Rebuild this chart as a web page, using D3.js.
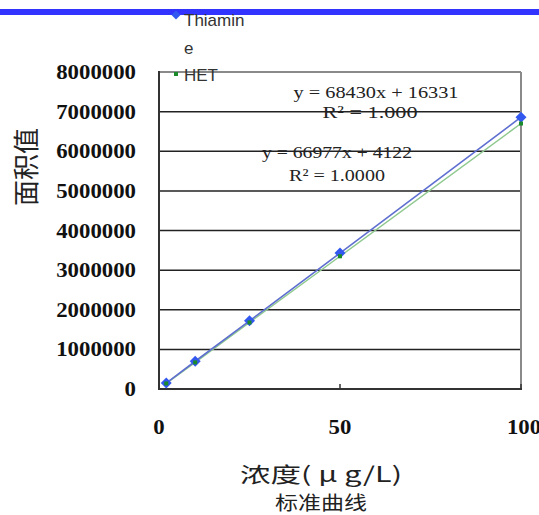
<!DOCTYPE html>
<html><head><meta charset="utf-8">
<script src="https://cdn.jsdelivr.net/npm/d3@7"></script>
<style>body{margin:0;background:#fff}svg{display:block}</style>
</head><body>
<svg id="c" width="539" height="515"></svg>
<script>
const concentrations = [2, 10, 25, 50, 100];
const thiamine = [150000, 700000, 1720000, 3430000, 6860000];
const het = [140000, 672000, 1680000, 3350000, 6700000];
const seriesNames = ["Thiamin", "e", "HET"];
const yTicks = [0, 1000000, 2000000, 3000000, 4000000, 5000000, 6000000, 7000000, 8000000];
const xTicks = [0, 50, 100];
const equations = ["y = 68430x + 16331", "R² = 1.000", "y = 66977x + 4122", "R² = 1.0000"];

const svg = d3.select("#c");
const L = 159, R = 521, T = 72, B = 389;
const x = d3.scaleLinear().domain([0, 100]).range([L, R]);
const y = d3.scaleLinear().domain([0, 8000000]).range([B, T]);

// top blue bar
svg.append("rect").attr("x", 0).attr("y", 9).attr("width", 539).attr("height", 6).attr("fill", "#3333ff");

// equations (drawn beneath gridlines)
const eqPos = [[376, 98, 165], [370, 118, 95], [337, 158, 150], [337, 181, 96]];
equations.forEach((t, i) => {
  svg.append("text").attr("x", eqPos[i][0]).attr("y", eqPos[i][1])
    .attr("text-anchor", "middle").attr("font-family", "Liberation Serif, serif")
    .attr("font-size", 17).attr("fill", "#222")
    .attr("textLength", eqPos[i][2]).attr("lengthAdjust", "spacingAndGlyphs").text(t);
});

// gridlines
svg.append("g").selectAll("line").data(yTicks.filter(d => d > 0 && d < 8000000)).join("line")
  .attr("x1", L).attr("x2", R).attr("y1", d => y(d)).attr("y2", d => y(d))
  .attr("stroke", "#222").attr("stroke-width", 1.5);

// frame
svg.append("line").attr("x1", L).attr("x2", R).attr("y1", T).attr("y2", T).attr("stroke", "#8a8a8a").attr("stroke-width", 2);
svg.append("line").attr("x1", R).attr("x2", R).attr("y1", T).attr("y2", B).attr("stroke", "#8a8a8a").attr("stroke-width", 2);
svg.append("line").attr("x1", L).attr("x2", L).attr("y1", T - 1).attr("y2", B + 1).attr("stroke", "#333").attr("stroke-width", 2);
svg.append("line").attr("x1", L - 1).attr("x2", R + 1).attr("y1", B).attr("y2", B).attr("stroke", "#333").attr("stroke-width", 2);

// x tick marks (inside)
svg.append("g").selectAll("line").data(xTicks).join("line")
  .attr("x1", d => x(d)).attr("x2", d => x(d)).attr("y1", B).attr("y2", B - 5)
  .attr("stroke", "#333").attr("stroke-width", 1.5);

// y tick labels
svg.append("g").selectAll("text").data(yTicks).join("text")
  .attr("x", 136).attr("y", d => y(d) + 7).attr("text-anchor", "end")
  .attr("font-family", "Liberation Serif, serif").attr("font-weight", "bold").attr("font-size", 20)
  .attr("fill", "#111")
  .attr("textLength", d => String(d).length * 11.4).attr("lengthAdjust", "spacingAndGlyphs")
  .text(d => d);

// x tick labels
svg.append("g").selectAll("text").data(xTicks).join("text")
  .attr("x", d => x(d) + (d === 100 ? 3 : 0)).attr("y", 434).attr("text-anchor", "middle")
  .attr("font-family", "Liberation Serif, serif").attr("font-weight", "bold").attr("font-size", 20)
  .attr("fill", "#111")
  .attr("textLength", d => String(d).length * 11.4).attr("lengthAdjust", "spacingAndGlyphs")
  .text(d => d);

// lines
const line = d3.line().x(d => x(d[0])).y(d => y(d[1]));
const hetPts = concentrations.map((c, i) => [c, het[i]]);
const thPts = concentrations.map((c, i) => [c, thiamine[i]]);
svg.append("path").attr("d", line(hetPts)).attr("fill", "none").attr("stroke", "#8fc98f").attr("stroke-width", 1.5);
svg.append("path").attr("d", line(thPts)).attr("fill", "none").attr("stroke", "#5f6fd0").attr("stroke-width", 1.6);

// markers
const sq = d3.symbol().type(d3.symbolSquare);
svg.append("g").selectAll("path").data(thPts).join("path")
  .attr("d", sq.size(60)()).attr("transform", d => `translate(${x(d[0])},${y(d[1])}) rotate(45)`)
  .attr("fill", "#3358f0");
svg.append("g").selectAll("path").data(hetPts).join("path")
  .attr("d", sq.size(16)()).attr("transform", d => `translate(${x(d[0])},${y(d[1])})`)
  .attr("fill", "#1a8a2a");

// legend
svg.append("path").attr("d", sq.size(40)()).attr("transform", "translate(176,15) rotate(45)").attr("fill", "#3358f0");
svg.append("path").attr("d", sq.size(16)()).attr("transform", "translate(176,74)").attr("fill", "#1a8a2a");
const legY = [26, 54, 81];
seriesNames.forEach((n, i) => {
  svg.append("text").attr("x", 184).attr("y", legY[i]).attr("font-family", "Liberation Sans, Arial, sans-serif")
    .attr("font-size", 17).attr("fill", "#333").text(n);
});

// axis titles
svg.append("text").attr("transform", "translate(36,167) rotate(-90)").attr("text-anchor", "middle")
  .attr("font-family", "Noto Sans CJK SC, sans-serif").attr("font-size", 26).attr("fill", "#222").text("面积值");
svg.append("text").attr("x", 321).attr("y", 482).attr("text-anchor", "middle")
  .attr("font-family", "Noto Sans CJK SC, sans-serif").attr("font-size", 21).attr("fill", "#222")
  .attr("textLength", 162).attr("lengthAdjust", "spacingAndGlyphs").text("浓度( μ g/L)");
svg.append("text").attr("x", 321).attr("y", 510).attr("text-anchor", "middle")
  .attr("font-family", "Noto Sans CJK SC, sans-serif").attr("font-size", 19).attr("fill", "#222")
  .attr("textLength", 92).attr("lengthAdjust", "spacingAndGlyphs").text("标准曲线");
</script>
</body></html>
